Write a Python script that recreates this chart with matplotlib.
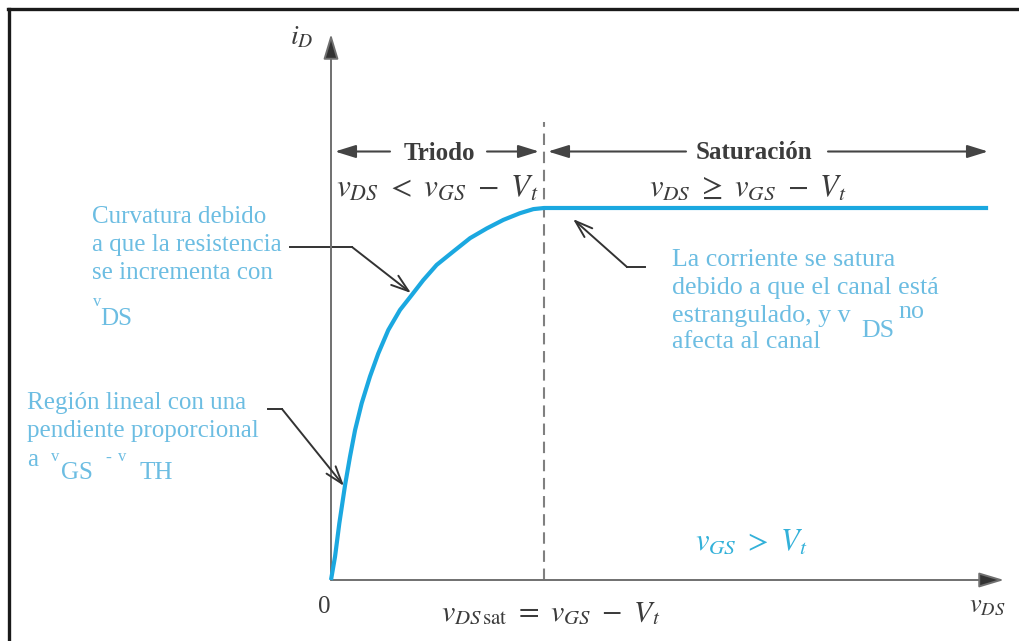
import matplotlib
matplotlib.use("Agg")
import matplotlib.pyplot as plt
from matplotlib.lines import Line2D

# i_D vs v_DS curve (v_DS normalised to v_DSsat, i_D to saturation current)
vds = [0.0, 0.019, 0.039, 0.066, 0.089, 0.113, 0.144, 0.183, 0.222, 0.269, 0.324,
       0.379, 0.433, 0.496, 0.574, 0.653, 0.731, 0.809, 0.887, 0.950, 1.0, 3.085]
i_d = [0.0, 0.063, 0.152, 0.255, 0.331, 0.403, 0.475, 0.547, 0.609, 0.672, 0.726,
       0.766, 0.806, 0.847, 0.883, 0.919, 0.945, 0.968, 0.986, 0.997, 1.0, 1.0]
vds_sat = 1.0

# labels
left_top = ["Curvatura debido", "a que la resistencia", "se incrementa con"]
left_bottom = ["Región lineal con una", "pendiente proporcional"]
right_text = ["La corriente se satura", "debido a que el canal está",
              "estrangulado, y v", "afecta al canal"]

plt.rcParams['mathtext.fontset'] = 'stix'
plt.rcParams['font.family'] = ['Liberation Serif', 'DejaVu Serif']

W, H = 1020, 641
X0, Y0, SX, SY = 331, 580, 213, 372   # origin and scale of the drawing in pixels


def P(x, y):
    # pixel position of the reference -> data coordinates
    return ((x - X0) / SX, (Y0 - y) / SY)


fig = plt.figure(figsize=(W / 100, H / 100), dpi=100)
ax = fig.add_axes([0, 0, 1, 1])
ax.set_xlim(-X0 / SX, (W - X0) / SX)
ax.set_ylim((Y0 - H) / SY, Y0 / SY)
ax.axis('off')

# frame (only top and left visible)
fig.add_artist(Line2D([8 / W, 1], [1 - 9 / H, 1 - 9 / H], color='#1a1a1a', lw=2.4))
fig.add_artist(Line2D([9 / W, 9 / W], [0, 1 - 9 / H], color='#1a1a1a', lw=2.4))

gray = '#3c3c3c'
axis_col = '#707070'
blue_txt = '#6cbde2'
curve_col = '#1ba8e0'

# axes with arrows
axarrow = dict(arrowstyle='-|>,head_length=1.1,head_width=0.33', lw=1.4,
               color=axis_col, fc='#333333', ec=axis_col,
               shrinkA=0, shrinkB=0, mutation_scale=14)
ax.annotate('', xy=P(X0, 34), xytext=(0, 0), arrowprops=axarrow)
ax.annotate('', xy=P(1004, Y0), xytext=(0, 0), arrowprops=axarrow)

# dashed boundary at v_DSsat
ax.plot([vds_sat, vds_sat], [0, P(0, 122)[1]], color='#808080', lw=1.5,
        dashes=(5.5, 3.2), zorder=2)

# the curve
ax.plot(vds, i_d, color=curve_col, lw=3.0, solid_capstyle='butt',
        solid_joinstyle='round', zorder=4)

# region arrows
harrow = dict(arrowstyle='-|>,head_length=0.9,head_width=0.28', lw=1.5,
              color='#444444', shrinkA=0, shrinkB=0, mutation_scale=14)
ax.annotate('', xy=P(335, 151.5), xytext=P(390, 151.5), arrowprops=harrow)
ax.annotate('', xy=P(539, 151.5), xytext=P(487, 151.5), arrowprops=harrow)
ax.annotate('', xy=P(548, 151.5), xytext=P(686, 151.5), arrowprops=harrow)
ax.annotate('', xy=P(988, 151.5), xytext=P(828, 151.5), arrowprops=harrow)

ax.text(*P(439, 160), 'Triodo', fontsize=18, fontweight='bold', color=gray,
        ha='center', va='baseline')
ax.text(*P(754, 159), 'Saturación', fontsize=18, fontweight='bold', color=gray,
        ha='center', va='baseline')

ax.text(*P(437, 196), r'$v_{DS}\ <\ v_{GS}\ -\ V_t$', fontsize=22.5, color=gray,
        ha='center', va='baseline')
ax.text(*P(748, 196), r'$v_{DS}\ \geq\ v_{GS}\ -\ V_t$', fontsize=22, color=gray,
        ha='center', va='baseline')

# axis labels
ax.text(*P(302, 44), r'$i_D$', fontsize=20, color=gray, ha='center', va='baseline')
ax.text(*P(324, 613), '0', fontsize=18, color=gray, ha='center', va='baseline')
ax.text(*P(551, 621), r'$v_{DS\,\mathrm{sat}}\ =\ v_{GS}\ -\ V_t$', fontsize=21.5,
        color=gray, ha='center', va='baseline')
ax.text(*P(1005, 612), r'$v_{DS}$', fontsize=19, color=gray, ha='right', va='baseline')
ax.text(*P(751, 550), r'$v_{GS}\ >\ V_t$', fontsize=22, color='#33b1d9',
        ha='center', va='baseline')

# left upper note
for k, line in enumerate(left_top):
    ax.text(*P(92, 223 + 28 * k), line, fontsize=18, color=blue_txt, va='baseline')
ax.text(*P(93, 306), 'v', fontsize=12, color=blue_txt, va='baseline')
ax.text(*P(100, 325), 'DS', fontsize=18, color=blue_txt, va='baseline')

# left lower note
for k, line in enumerate(left_bottom):
    ax.text(*P(27, 409 + 28 * k), line, fontsize=18, color=blue_txt, va='baseline')
ax.text(*P(27, 466), 'a', fontsize=18, color=blue_txt, va='baseline')
ax.text(*P(51, 461), 'v', fontsize=12, color=blue_txt, va='baseline')
ax.text(*P(61, 479), 'GS', fontsize=18, color=blue_txt, va='baseline')
ax.text(*P(105, 463), '-', fontsize=13, color=blue_txt, va='baseline')
ax.text(*P(118, 461), 'v', fontsize=12, color=blue_txt, va='baseline')
ax.text(*P(139, 479), 'TH', fontsize=18, color=blue_txt, va='baseline')

# right note
for line, base in zip(right_text, [266, 294, 322, 348]):
    ax.text(*P(672, base), line, fontsize=18.7, color=blue_txt, va='baseline')
ax.text(*P(861, 337), 'DS', fontsize=18.7, color=blue_txt, va='baseline')
ax.text(*P(898, 318), 'no', fontsize=18.7, color=blue_txt, va='baseline')

# pointer arrows
parrow = dict(arrowstyle='->,head_length=0.9,head_width=0.3', lw=1.4,
              color='#333333', shrinkA=0, shrinkB=0, mutation_scale=14)
for tail, knee, tip in [((290, 247), (352, 247), (411, 293)),
                        ((268, 409), (282, 409), (344, 486)),
                        ((645, 267), (627, 267), (573, 219))]:
    ax.plot(*zip(P(*tail), P(*knee)), color='#333333', lw=1.4)
    ax.annotate('', xy=P(*tip), xytext=P(*knee), arrowprops=parrow, zorder=5)

fig.savefig('out.png', dpi=100)
